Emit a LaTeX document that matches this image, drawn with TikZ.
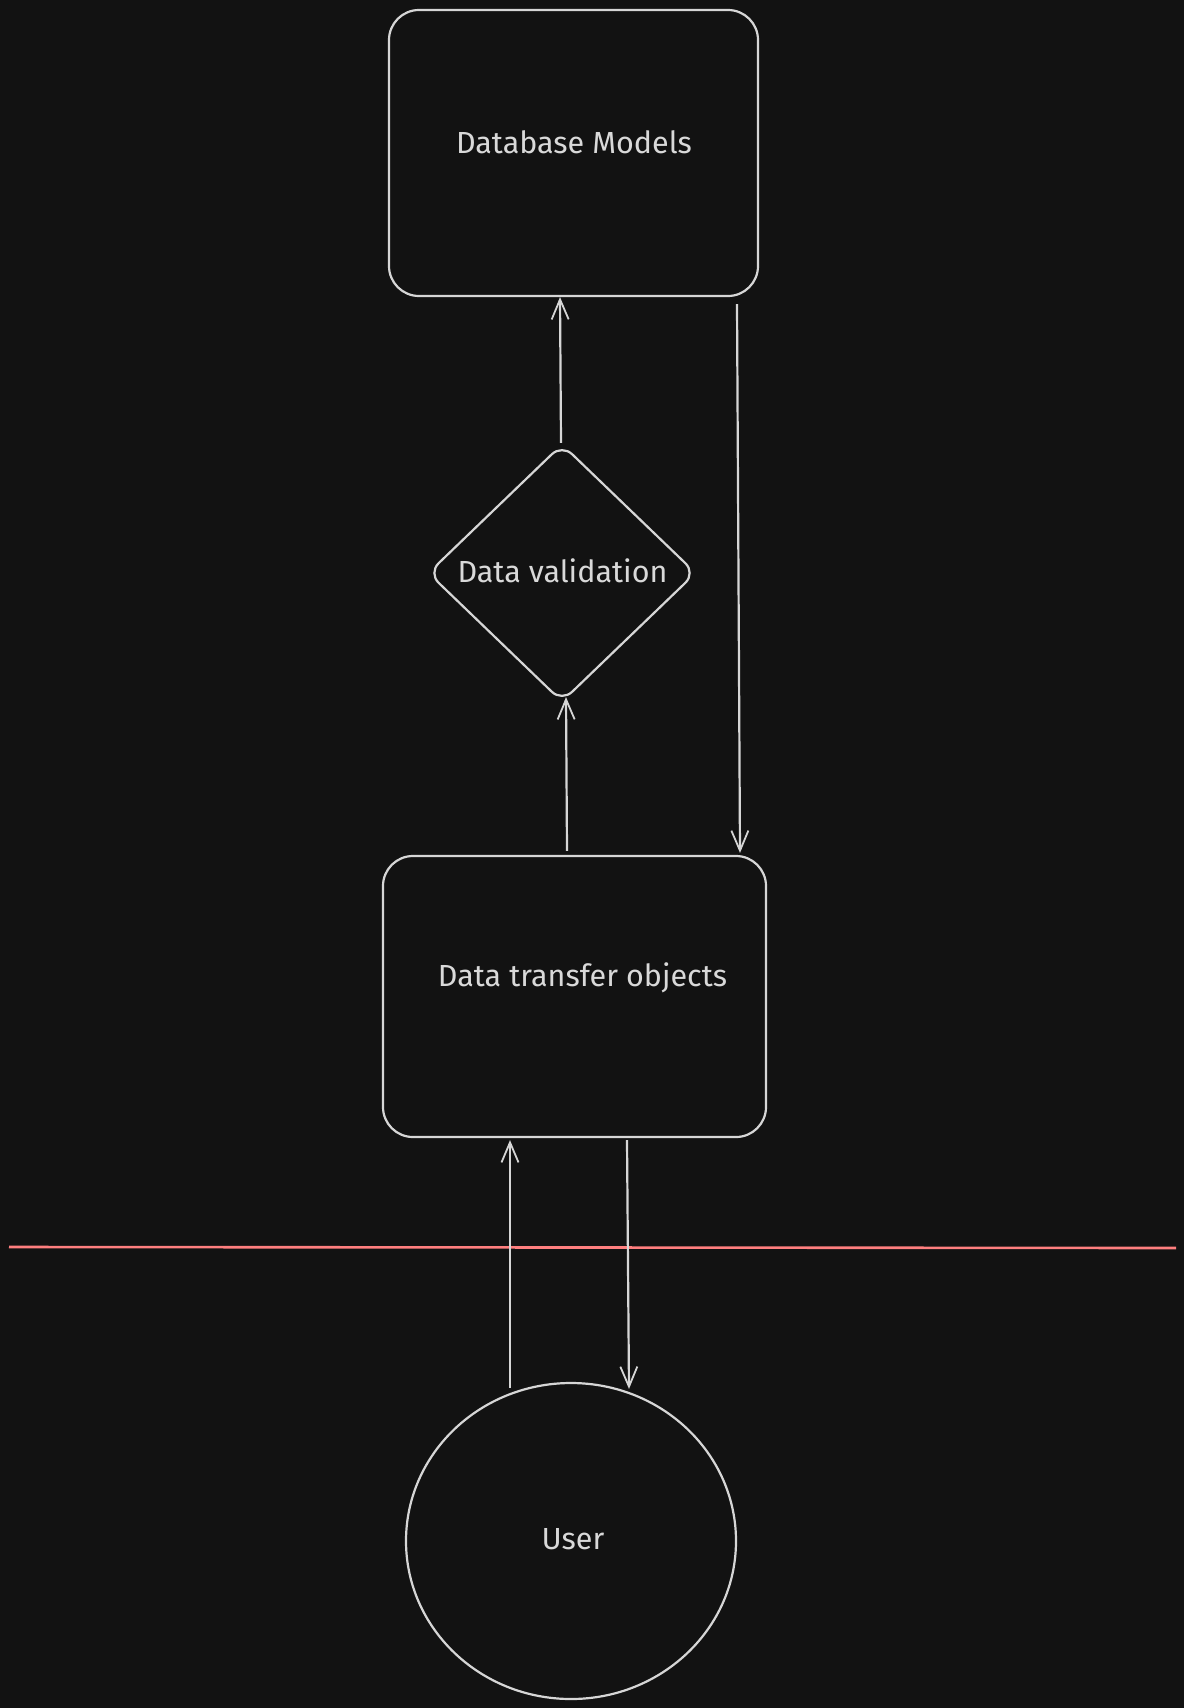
\documentclass[tikz,border=0pt]{standalone}
\usepackage{fontspec}
\setmainfont{Fira Sans}
\usetikzlibrary{arrows.meta,shapes.geometric}
\definecolor{bg}{HTML}{121212}
\definecolor{strk}{HTML}{D6D6D6}
\definecolor{txt}{HTML}{D9D9D9}
\definecolor{redline}{HTML}{FF7F7F}
\tikzset{
  box/.style={draw=strk, line width=2.2pt, rounded corners=30pt, inner sep=0pt},
  lbl/.style={text=txt, font=\fontsize{30.5}{33}\selectfont, inner sep=0pt},
  arr/.style={draw=strk, line width=2.2pt, -{Straight Barb[length=20pt,width=17pt,line width=1.8pt]}},
}
\begin{document}
\begin{tikzpicture}[x=1pt,y=-1pt]
\fill[bg] (0,0) rectangle (1184,1708);
\useasboundingbox (0,0) rectangle (1184,1708);
% shapes
\node[box, minimum width=369pt, minimum height=286pt] (db) at (573.5,153) {};
\node[lbl] (dbt) at (574,142) {Database Models};
\node[draw=strk, line width=2.2pt, diamond, rounded corners=14pt, inner sep=0pt, minimum width=268pt, minimum height=258pt] (dv) at (562,573) {};
\node[lbl] (dvt) at (562.5,571) {Data validation};
\node[box, minimum width=383pt, minimum height=281pt] (dto) at (574.5,996.5) {};
\node[lbl] (dtot) at (582.5,978) {Data transfer objects};
\node[draw=strk, line width=2.2pt, ellipse, inner sep=0pt, minimum width=330pt, minimum height=316pt] (user) at (571,1541) {};
\node[lbl] (usert) at (573,1539) {User};
% separator
\coordinate (sepL) at (9,1247);
\coordinate (sepR) at (1176,1248);
\draw[redline, line width=2.6pt] (sepL) -- (sepR);
% connectors (yshift is in page direction: positive = up)
\draw[arr] ([xshift=-1pt,yshift=0pt]dv.north) -- ([xshift=-13.5pt]db.south);
\draw[arr] ([xshift=163.5pt,yshift=-7pt]db.south) -- ([xshift=165.5pt,yshift=2pt]dto.north);
\draw[arr] ([xshift=-7.5pt,yshift=4pt]dto.north) -- ([xshift=4pt,yshift=6pt]dv.south);
\draw[arr] ([xshift=-61pt,yshift=-6pt]user.north) -- ([xshift=-64.5pt,yshift=-2pt]dto.south);
\draw[arr] ([xshift=52.5pt,yshift=-2pt]dto.south) -- ([xshift=58pt,yshift=-7pt]user.north);
\end{tikzpicture}
\end{document}
